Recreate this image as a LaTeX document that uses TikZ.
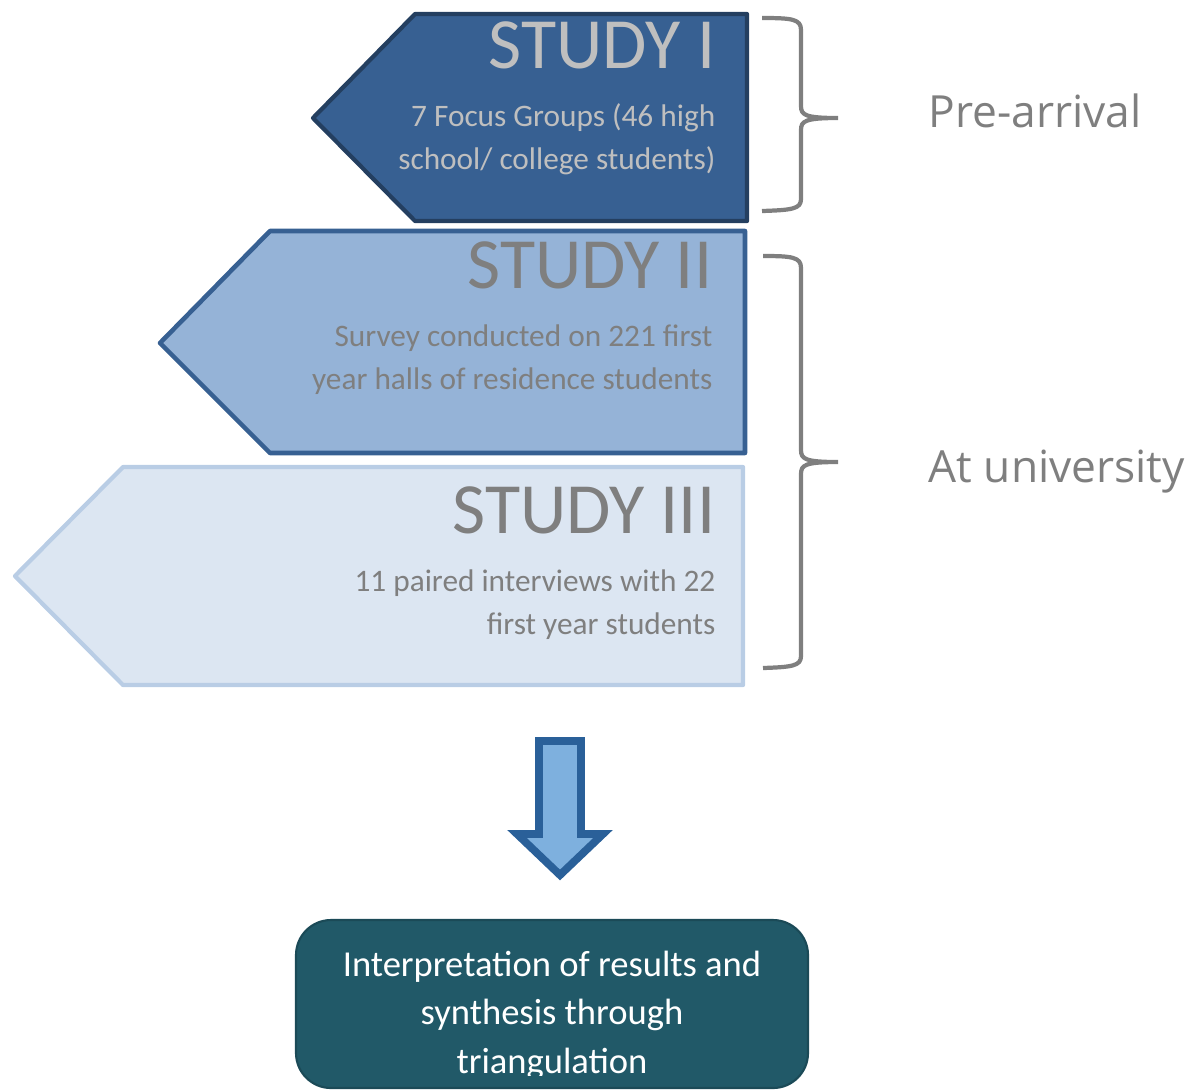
\documentclass[tikz,border=0pt]{standalone}
\usepackage{fontspec}
\setmainfont{Carlito}
\newfontfamily\labelfont{Open Sans}
\definecolor{oneFill}{HTML}{376092}
\definecolor{oneLine}{HTML}{243F60}
\definecolor{twoFill}{HTML}{95B3D7}
\definecolor{twoLine}{HTML}{376092}
\definecolor{threeFill}{HTML}{DCE6F2}
\definecolor{threeLine}{HTML}{B9CDE5}
\definecolor{txtGray}{HTML}{7F7F7F}
\definecolor{txtLight}{HTML}{BFBFBF}
\definecolor{arrLine}{HTML}{2A6099}
\definecolor{arrFill}{HTML}{7EB0DE}
\definecolor{boxFill}{HTML}{215968}
\definecolor{boxLine}{HTML}{1B4A57}

\tikzset{
  studytitle/.style={anchor=base east, inner sep=0pt, font=\fontsize{20.5}{24}\selectfont},
  studytext/.style={anchor=base east, inner sep=0pt, align=right, font=\fontsize{8.9}{12}\selectfont},
  bracket/.style={draw=txtGray, line width=1.2pt, line join=round},
  period/.style={anchor=base west, inner sep=0pt, text=txtGray, font=\labelfont\fontsize{12.6}{15}\selectfont}
}

\begin{document}
\begin{tikzpicture}[x=0.01cm, y=-0.01cm]
  \useasboundingbox (0,0) rectangle (1197,1090);
  % study I
  \filldraw [fill=oneFill, draw=oneLine, line width=1.2pt, line join=round] (313,118) coordinate (tip1) -- (415,14) coordinate (tl1) -- (747,14) coordinate (tr1) -- (747,221) coordinate (br1) -- (415,221) coordinate (bl1) -- cycle;
  \node [studytitle, text=txtLight] (t1) at (716,68) {STUDY I};
  \node [studytext, text=txtLight] (d1) at (716,169) {7 Focus Groups (46 high\\school/ college students)};
  % study II
  \filldraw [fill=twoFill, draw=twoLine, line width=1.3pt, line join=round] (160,343) coordinate (tip2) -- (270,231) coordinate (tl2) -- (745,231) coordinate (tr2) -- (745,453) coordinate (br2) -- (270,453) coordinate (bl2) -- cycle;
  \node [studytitle, text=txtGray] (t2) at (713,288) {STUDY II};
  \node [studytext, text=txtGray] (d2) at (713,389) {Survey conducted on 221 first\\year halls of residence students};
  % study III
  \filldraw [fill=threeFill, draw=threeLine, line width=1.2pt, line join=round] (15,576) coordinate (tip3) -- (123,467) coordinate (tl3) -- (743,467) coordinate (tr3) -- (743,685) coordinate (br3) -- (123,685) coordinate (bl3) -- cycle;
  \node [studytitle, text=txtGray] (t3) at (716,533) {STUDY III};
  \node [studytext, text=txtGray] (d3) at (716,634) {11 paired interviews with 22\\first year students};
  % braces
  \draw [bracket] (762,18) .. controls (792,18) and (801,19) .. (801,30) -- (801,106) .. controls (801,115) and (805,118) .. (838,118) coordinate (c1)
    (c1) .. controls (805,118) and (801,121) .. (801,130) -- (801,199) .. controls (801,209) and (792,210) .. (762,211);
  \draw [bracket] (763,256) .. controls (792,256) and (801,257) .. (801,268) -- (801,450) .. controls (801,459) and (805,462) .. (838,462) coordinate (c2)
    (c2) .. controls (805,462) and (801,465) .. (801,474) -- (801,656) .. controls (801,666) and (792,667) .. (763,668);
  \node [period] (pre) at (928,127) {Pre-arrival};
  \node [period] (uni) at (928,482) {At university};
  % down arrow
  \filldraw [fill=arrFill, draw=arrLine, line width=2.2pt] (539,741) -- (581,741) -- (581,834) -- (603,834) -- (560,875) coordinate (atip) -- (517,834) -- (539,834) -- cycle;
  % synthesis box
  \filldraw [fill=boxFill, draw=boxLine, line width=0.6pt, rounded corners=0.35cm] (296,920) rectangle (808,1088);
  \begin{scope}
    \clip (296,920) rectangle (808,1075);
    \node [anchor=base, inner sep=0pt, align=center, text=white, font=\fontsize{10.4}{13.7}\selectfont] (syn) at (552,1073) {Interpretation of results and\\synthesis through\\triangulation};
  \end{scope}
\end{tikzpicture}
\end{document}
